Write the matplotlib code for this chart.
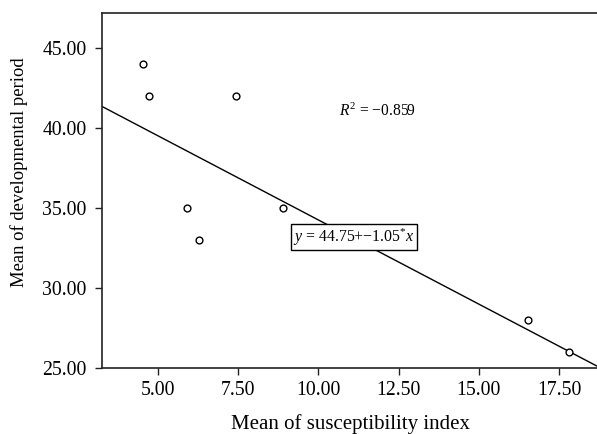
import matplotlib
matplotlib.use("Agg")
import matplotlib.pyplot as plt
import numpy as np

susceptibility = [4.52, 4.73, 7.42, 5.90, 6.28, 8.90, 16.52, 17.81]
development = [44.0, 42.0, 42.0, 35.0, 33.0, 35.0, 28.0, 26.0]
intercept = 44.75
slope = -1.05
r2_text = "$R^2$ = \u22120.859"
eq_text = "$y$ = 44.75+\u22121.05$^{*}$$x$"
xticks = [5.0, 7.5, 10.0, 12.5, 15.0, 17.5]
yticks = [25.0, 30.0, 35.0, 40.0, 45.0]

plt.rcParams['font.family'] = ['Liberation Serif', 'DejaVu Serif']
plt.rcParams['mathtext.fontset'] = 'custom'
plt.rcParams['mathtext.rm'] = 'Liberation Serif'
plt.rcParams['mathtext.it'] = 'Liberation Serif:italic'

fig = plt.figure(figsize=(5.97, 4.34), dpi=100)
ax = fig.add_axes([0.1704, 0.1514, 0.8296, 0.8193])
xmin, xmax = 3.245, 18.68
ax.set_xlim(xmin, xmax)
ax.set_ylim(25.0, 47.18)

xs = np.array([xmin, xmax])
ax.plot(xs, intercept + slope * xs, color='black', lw=1.0, zorder=2)
ax.scatter(susceptibility, development, s=24, facecolors='white',
           edgecolors='black', linewidths=1.0, zorder=3)

ax.set_xticks(xticks)
ax.set_xticklabels([f"{v:.2f}" for v in xticks])
ax.set_yticks(yticks)
ax.set_yticklabels([f"{v:.2f}" for v in yticks])
ax.tick_params(axis='both', labelsize=14.2, length=5, width=1.0, color='#222222')
ax.tick_params(axis='x', pad=4.5)
ax.tick_params(axis='y', pad=6)

for s in ['left', 'bottom', 'top']:
    ax.spines[s].set_linewidth(1.2)
    ax.spines[s].set_color('#222222')
ax.spines['right'].set_visible(False)

ax.set_xlabel("Mean of susceptibility index", fontsize=15)
ax.set_ylabel("Mean of developmental period", fontsize=13.4)
ax.xaxis.set_label_coords(0.503, -0.157)
ax.xaxis.label.set_verticalalignment('center')
ax.yaxis.set_label_coords(-0.167, 0.551)
ax.yaxis.label.set_verticalalignment('center')

ax.text(11.84, 41.0, r2_text, fontsize=11.2, ha='center', va='center')
ax.text(11.11, 33.19, eq_text, fontsize=11.4, ha='center', va='center',
        bbox=dict(boxstyle='square,pad=0.12', facecolor='white', edgecolor='black', lw=1.0),
        zorder=4)

fig.savefig("out.png", dpi=100)
